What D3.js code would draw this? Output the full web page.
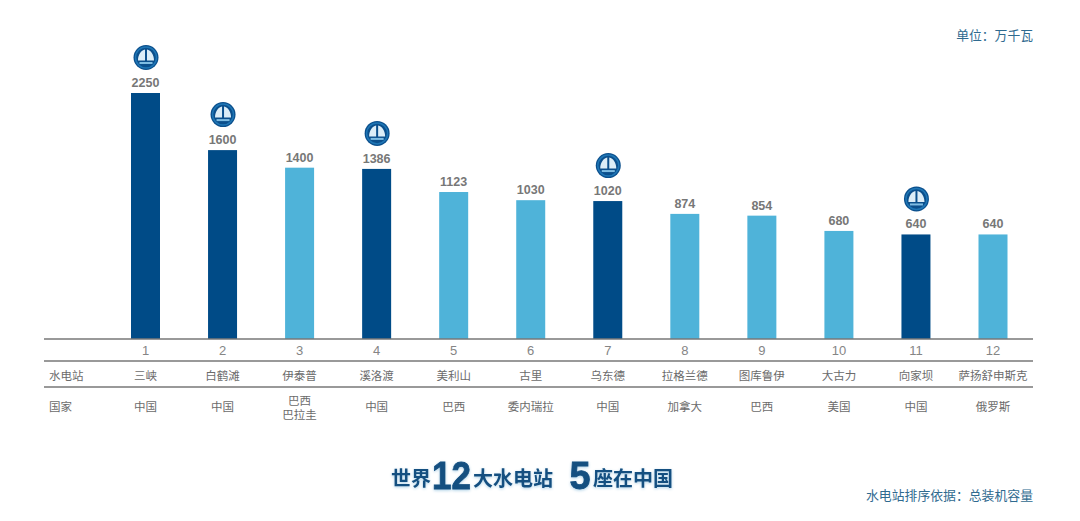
<!DOCTYPE html>
<html>
<head>
<meta charset="utf-8">
<script src="https://cdn.jsdelivr.net/npm/d3@7"></script>
<style>
  html, body { margin: 0; padding: 0; background: #fff; }
  svg { display: block; }
  text { font-family: "Noto Sans CJK SC", sans-serif; }
  .num { font-family: "Liberation Sans", Arial, sans-serif; }
</style>
</head>
<body>
<svg id="chart" width="1080" height="521"></svg>
<script>
const ranks = ["1", "2", "3", "4", "5", "6", "7", "8", "9", "10", "11", "12"];
const capacity = [2250, 1600, 1400, 1386, 1123, 1030, 1020, 874, 854, 680, 640, 640];
const stations = ["三峡", "白鹤滩", "伊泰普", "溪洛渡", "美利山", "古里", "乌东德", "拉格兰德", "图库鲁伊", "大古力", "向家坝", "萨扬舒申斯克"];
const countries = [["中国"], ["中国"], ["巴西", "巴拉圭"], ["中国"], ["巴西"], ["委内瑞拉"], ["中国"], ["加拿大"], ["巴西"], ["美国"], ["中国"], ["俄罗斯"]];
const isChina = [true, true, false, true, false, false, true, false, false, false, true, false];

const svg = d3.select("#chart");
const left = 44, right = 1033, base = 339;

const x = d3.scalePoint().domain(ranks).range([145.5, 993]);
// the bars do not start at zero in the original, 640 is still 105px tall
const y = d3.scaleLinear().domain([-550, 2250]).range([base, 93]);
const barW = 29;

const rows = ranks.map((r, i) => ({
  rank: r, value: capacity[i], station: stations[i], country: countries[i], china: isChina[i]
}));

svg.append("g").selectAll("rect").data(rows).enter().append("rect")
  .attr("x", d => x(d.rank) - barW / 2)
  .attr("y", d => y(d.value))
  .attr("width", barW)
  .attr("height", d => base - y(d.value))
  .attr("fill", d => d.china ? "#004b87" : "#4fb3d9");

svg.append("g").selectAll("text").data(rows).enter().append("text")
  .attr("class", "num")
  .attr("x", d => x(d.rank))
  .attr("y", d => y(d.value) - 6)
  .attr("text-anchor", "middle")
  .attr("font-size", 12.5)
  .attr("font-weight", "bold")
  .attr("fill", "#777")
  .text(d => d.value);

// company logo over the chinese stations
const logos = svg.append("g").selectAll("g").data(rows.filter(d => d.china)).enter().append("g")
  .attr("transform", d => `translate(${x(d.rank) + 0.5},${y(d.value) - 35.5})`);
logos.append("circle").attr("r", 12.5).attr("fill", "#0b4f8c");
logos.append("circle").attr("r", 10.5).attr("fill", "none").attr("stroke", "#1f76b5").attr("stroke-width", 1.5);
logos.append("path").attr("d", "M-8,3 C-8,-3 -5,-7 -1,-8 L-1,3 Z M1,3 L1,-8 C5,-7 8,-3 8,3 Z").attr("fill", "#dcedf7");
logos.append("rect").attr("x", -6.5).attr("y", 4.5).attr("width", 13).attr("height", 2).attr("fill", "#7fbde3");

svg.append("g").selectAll("line").data([339, 361, 387]).enter().append("line")
  .attr("x1", left).attr("x2", right)
  .attr("y1", d => d).attr("y2", d => d)
  .attr("stroke", "#777").attr("stroke-width", 1.3);

svg.append("g").selectAll("text").data(rows).enter().append("text")
  .attr("class", "num")
  .attr("x", d => x(d.rank))
  .attr("y", 355)
  .attr("text-anchor", "middle")
  .attr("font-size", 13)
  .attr("fill", "#858585")
  .text(d => d.rank);

svg.append("g").selectAll("text").data(rows).enter().append("text")
  .attr("x", d => x(d.rank))
  .attr("y", 380)
  .attr("text-anchor", "middle")
  .attr("font-size", 11.5)
  .attr("fill", "#6b6b6b")
  .text(d => d.station);

const countryCells = svg.append("g").selectAll("text").data(rows).enter().append("text")
  .attr("text-anchor", "middle")
  .attr("font-size", 11.5)
  .attr("fill", "#6b6b6b");
countryCells.selectAll("tspan").data(d => d.country.map(c => ({ c, d }))).enter().append("tspan")
  .attr("x", e => x(e.d.rank))
  .attr("y", (e, i) => e.d.country.length > 1 ? 405 + i * 14 : 411)
  .text(e => e.c);

svg.append("text").attr("x", 49).attr("y", 380).attr("font-size", 11.5).attr("fill", "#6b6b6b").text("水电站");
svg.append("text").attr("x", 49).attr("y", 411).attr("font-size", 11.5).attr("fill", "#6b6b6b").text("国家");

svg.append("text").attr("x", 1033).attr("y", 40).attr("text-anchor", "end")
  .attr("font-size", 12.8).attr("fill", "#2f6a8f").text("单位：万千瓦");
svg.append("text").attr("x", 1033).attr("y", 500).attr("text-anchor", "end")
  .attr("font-size", 12.85).attr("fill", "#2f6a8f").text("水电站排序依据：总装机容量");

// headline, big digits sit between the chinese pieces
const headline = svg.append("g")
  .attr("fill", "#144f80")
  .attr("font-weight", "bold")
  .style("filter", "drop-shadow(0 1px 1.5px rgba(70,150,200,0.45))");
[
  { t: "世界", x: 391, size: 20, len: null },
  { t: "12", x: 432, size: 39, len: 39 },
  { t: "大水电站", x: 473, size: 20, len: null },
  { t: "5", x: 569.5, size: 38, len: 21 },
  { t: "座在中国", x: 593, size: 20, len: null }
].forEach(p => {
  const t = headline.append("text")
    .attr("class", p.len ? "num" : null)
    .attr("x", p.x)
    .attr("y", p.len ? 488.5 : 486)
    .attr("font-size", p.size)
    .text(p.t);
  if (p.len) {
    t.attr("textLength", p.len).attr("lengthAdjust", "spacingAndGlyphs")
      .attr("stroke", "#144f80").attr("stroke-width", 0.8);
  }
});
</script>
</body>
</html>
